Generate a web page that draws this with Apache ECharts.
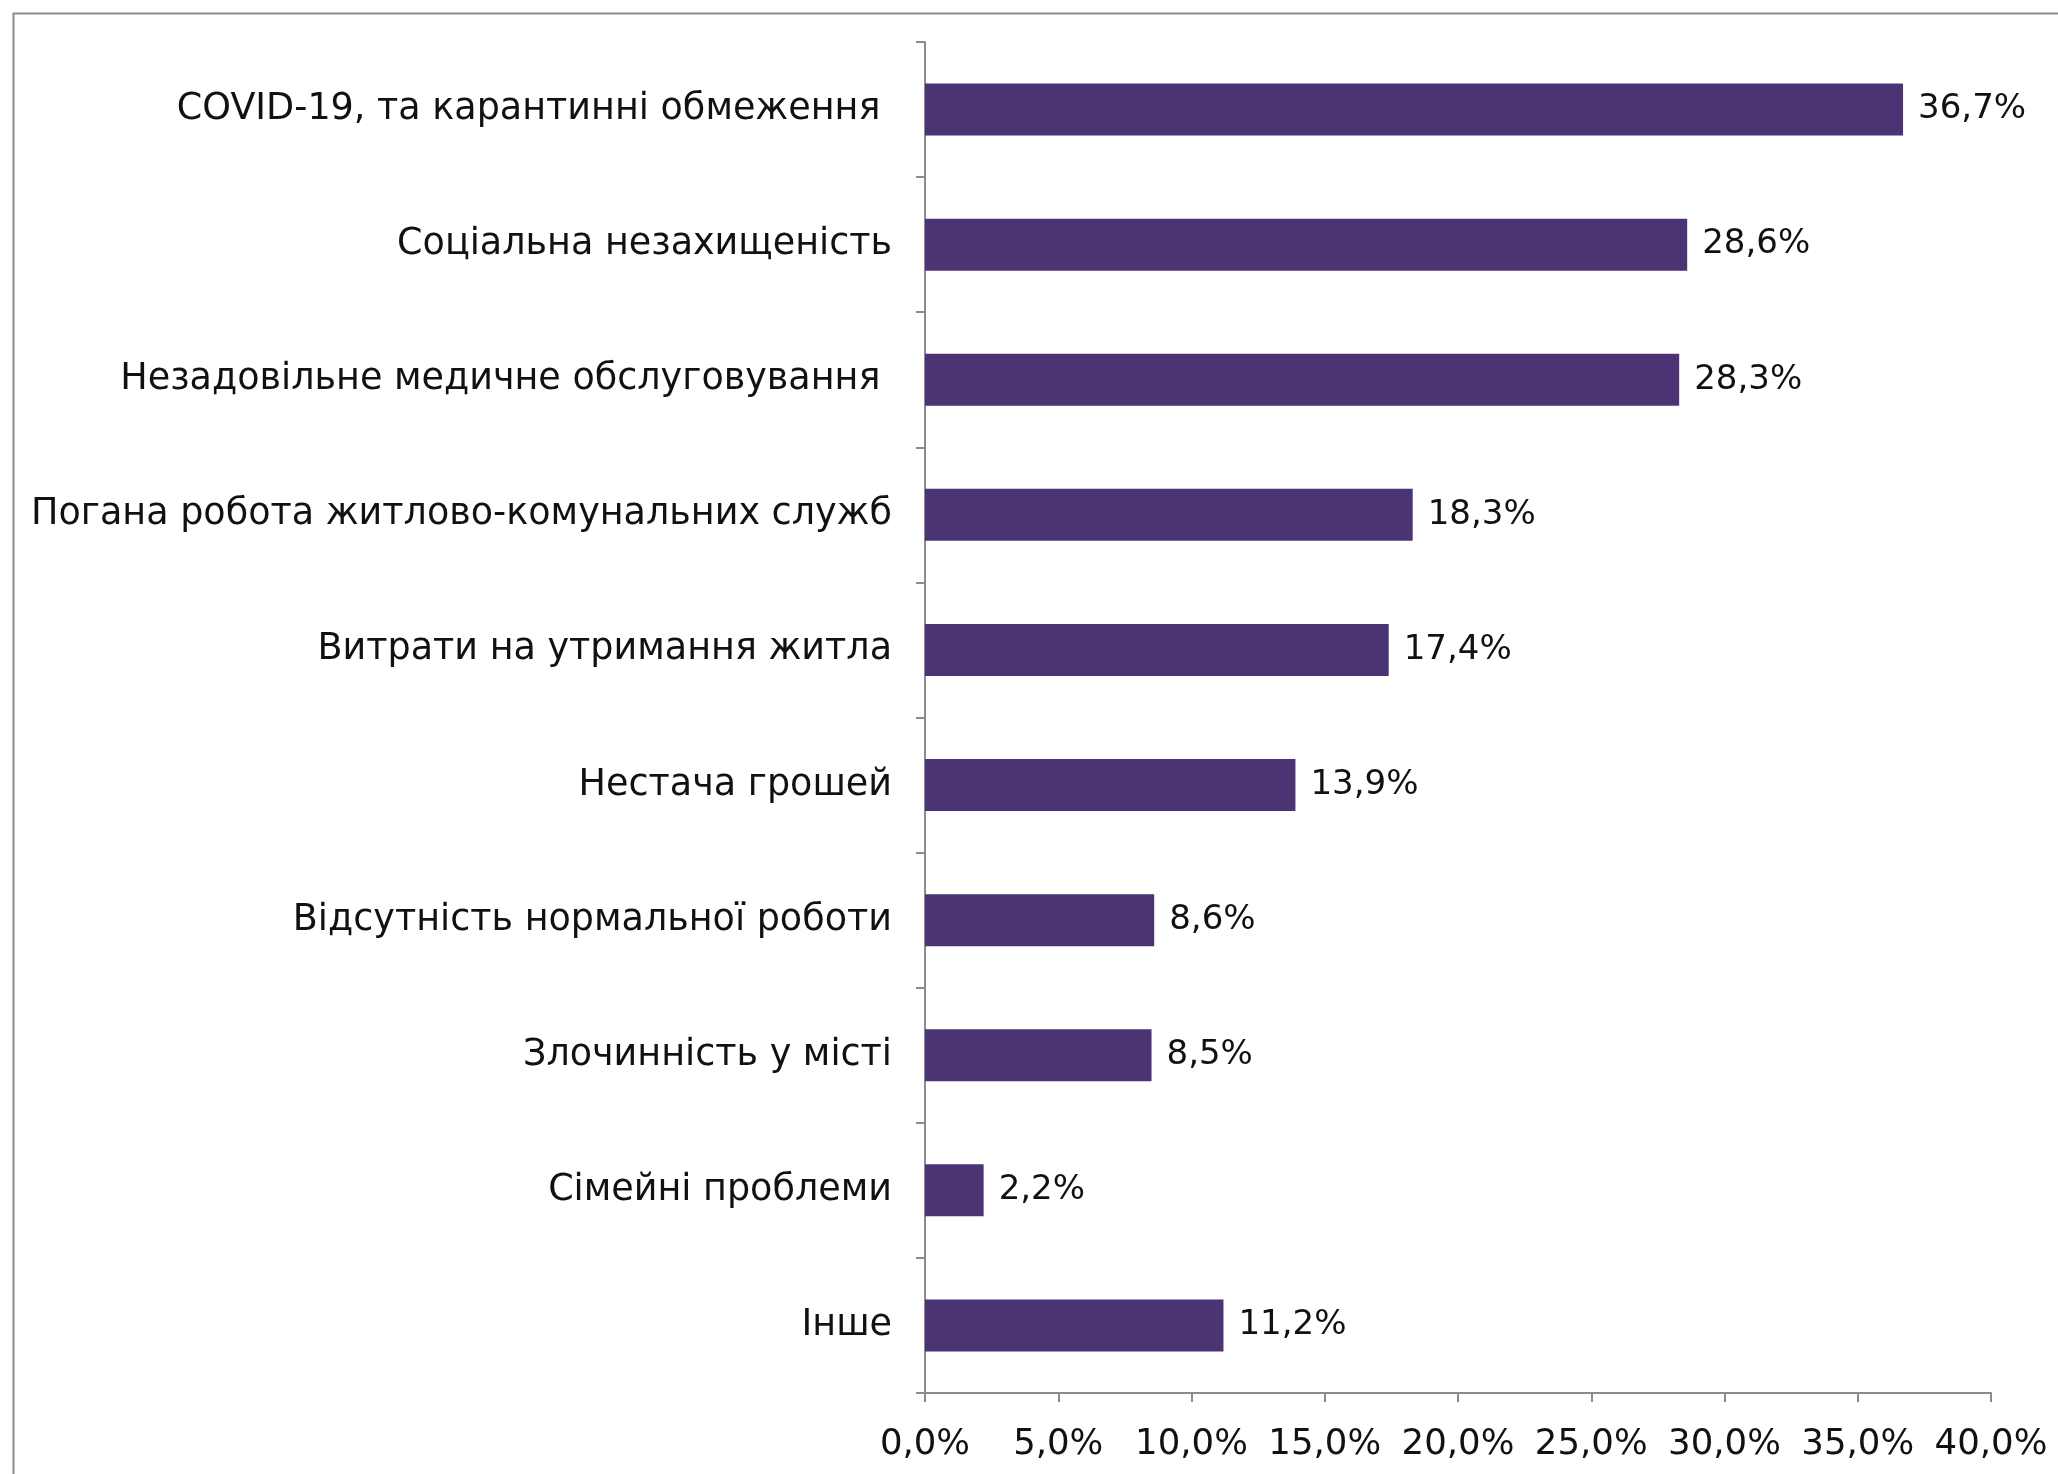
<!DOCTYPE html>
<html><head><meta charset="utf-8">
<script src="https://cdn.jsdelivr.net/npm/echarts@6/dist/echarts.min.js"></script>
<style>html,body{margin:0;padding:0;background:#fff}#c{width:2058px;height:1474px}</style>
</head><body><div id="c"></div>
<script>
const categories = [
  "COVID-19, та карантинні обмеження ",
  "Соціальна незахищеність",
  "Незадовільне медичне обслуговування ",
  "Погана робота житлово-комунальних служб",
  "Витрати на утримання житла",
  "Нестача грошей",
  "Відсутність нормальної роботи",
  "Злочинність у місті",
  "Сімейні проблеми",
  "Інше"
];
const values = [36.7, 28.6, 28.3, 18.3, 17.4, 13.9, 8.6, 8.5, 2.2, 11.2];
const xMin = 0, xMax = 40, xStep = 5;

const fmt = v => v.toFixed(1).replace('.', ',') + '%';
const FONT = '"DejaVu Sans", sans-serif';
const chart = echarts.init(document.getElementById('c'), null, {renderer: 'canvas'});
chart.setOption({
  animation: false,
  backgroundColor: '#fff',
  graphic: [{
    type: 'rect', left: 11, top: 11, shape: {width: 2100, height: 1500},
    style: {fill: 'none', stroke: '#8c8c8c', lineWidth: 2}, silent: true
  }],
  grid: {left: 925, right: 67, top: 42, bottom: 81, containLabel: false},
  xAxis: {
    type: 'value', min: xMin, max: xMax, interval: xStep,
    axisLine: {show: true, lineStyle: {color: '#8c8c8c', width: 2}},
    axisTick: {show: true, length: 9, lineStyle: {color: '#8c8c8c', width: 2}},
    splitLine: {show: false},
    axisLabel: {formatter: v => fmt(v), color: '#111', fontSize: 35.5, fontFamily: FONT, margin: 34}
  },
  yAxis: {
    type: 'category', data: categories, inverse: true,
    axisLine: {show: true, lineStyle: {color: '#8c8c8c', width: 2}},
    axisTick: {show: true, length: 9, lineStyle: {color: '#8c8c8c', width: 2}},
    axisLabel: {color: '#111', fontSize: 36.5, fontFamily: FONT, margin: 33}
  },
  series: [{
    type: 'bar', data: values, barWidth: 52,
    itemStyle: {color: '#4B3374'},
    label: {show: true, position: 'right', distance: 15, formatter: p => fmt(p.value),
      color: '#111', fontSize: 34, fontFamily: FONT}
  }]
});
</script></body></html>
